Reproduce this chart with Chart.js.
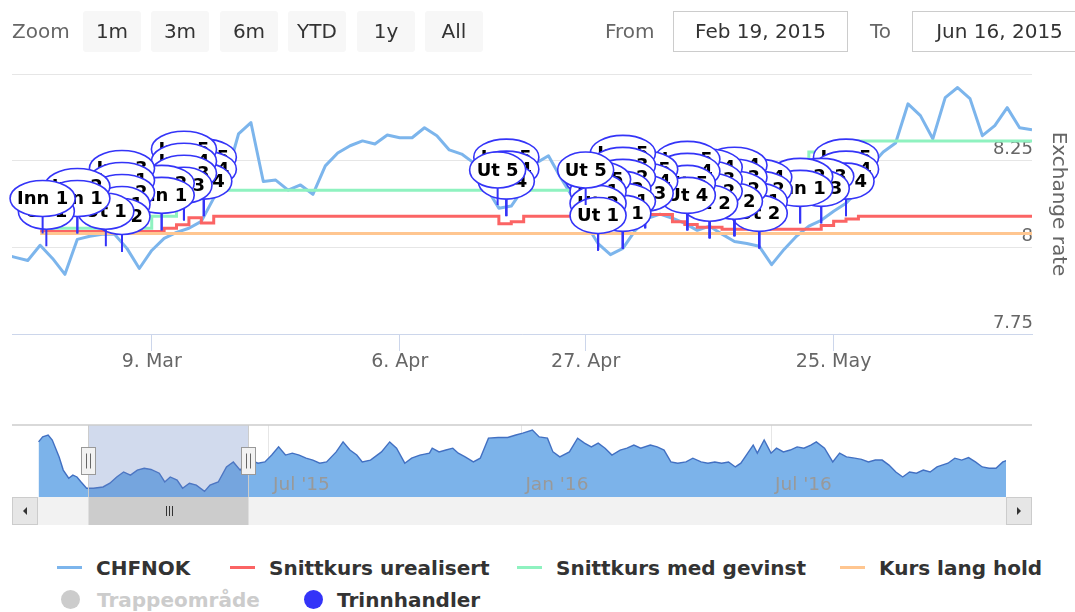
<!DOCTYPE html>
<html>
<head>
<meta charset="utf-8">
<script src="https://cdn.jsdelivr.net/npm/chart.js@4.4.1/dist/chart.umd.min.js"></script>
<style>
  body { margin: 0; width: 1075px; height: 612px; overflow: hidden; background: #fff; position: relative; font-family: "DejaVu Sans", sans-serif; }
  canvas { position: absolute; left: 0; }
  #main { top: 0; }
  #nav { top: 420px; }
  .lbl { position: absolute; top: 19px; font-size: 20px; color: #666; line-height: 24px; }
  .btn { position: absolute; top: 11px; width: 58px; height: 41px; line-height: 41px; background: #f7f7f7; border-radius: 3px; text-align: center; font-size: 20px; color: #333; }
  .inp { position: absolute; top: 11px; width: 173px; height: 39px; line-height: 39px; border: 1px solid #ccc; text-align: center; font-size: 20px; color: #333; }
  .leg { position: absolute; font-size: 20px; font-weight: bold; color: #333; line-height: 24px; white-space: nowrap; }
  .sym { position: absolute; width: 25px; height: 3px; }
  .dot { position: absolute; width: 19px; height: 19px; border-radius: 50%; }
</style>
</head>
<body>
<canvas id="main" width="1075" height="400"></canvas>
<canvas id="nav" width="1075" height="108"></canvas>

<div class="lbl" style="left:12px">Zoom</div>
<div class="btn" style="left:83px">1m</div>
<div class="btn" style="left:151px">3m</div>
<div class="btn" style="left:220px">6m</div>
<div class="btn" style="left:288px">YTD</div>
<div class="btn" style="left:357px">1y</div>
<div class="btn" style="left:425px">All</div>
<div class="lbl" style="left:605px">From</div>
<div class="inp" id="fromBox" style="left:673px"></div>
<div class="lbl" style="left:870px">To</div>
<div class="inp" id="toBox" style="left:912px"></div>

<div id="legend"></div>

<script>
Chart.defaults.font.family = '"DejaVu Sans", sans-serif';

// CHFNOK, one value per trading day from Feb 19, 2015 (index 0) to Jun 16, 2015 (index 83)
const chfnok = [
  7.980, 7.971, 7.962, 8.006, 7.968, 7.922, 8.023, 8.032, 8.038, 8.038,
  7.997, 7.939, 7.991, 8.026, 8.043, 8.055, 8.075, 8.142, 8.200, 8.327,
  8.360, 8.190, 8.194, 8.165, 8.180, 8.153, 8.235, 8.272, 8.293, 8.307,
  8.298, 8.324, 8.316, 8.316, 8.345, 8.322, 8.281, 8.269, 8.243, 8.171,
  8.113, 8.119, 8.171, 8.243, 8.264, 8.200, 8.142, 8.069, 8.011, 7.979,
  7.997, 8.049, 8.084, 8.096, 8.084, 8.069, 8.049, 8.061, 8.038, 8.017,
  8.011, 8.003, 7.950, 7.994, 8.032, 8.061, 8.078, 8.104, 8.127, 8.165,
  8.235, 8.275, 8.301, 8.414, 8.380, 8.313, 8.432, 8.461, 8.429, 8.322,
  8.351, 8.403, 8.345, 8.339
];

const tickDays = [12, 32, 47, 67];
const tickLabels = ['9. Mar', '6. Apr', '27. Apr', '25. May'];
const yTicks = [7.75, 8, 8.25, 8.5];

// step series: trading day where the level changes, and the new level
const redDays = [3, 13, 14, 15, 16, 17, 40, 41, 42, 47, 48, 52, 54, 55, 56, 58, 66, 67, 68, 69, 83];
const redValues = [8.046, 8.055, 8.065, 8.085, 8.07, 8.09, 8.068, 8.074, 8.09, 8.06, 8.08, 8.095, 8.074, 8.066, 8.058, 8.052, 8.063, 8.075, 8.082, 8.09, 8.09];
const greenDays = [3, 12, 14, 16, 55, 58, 64, 65, 68, 83];
const greenValues = [8.055, 8.09, 8.14, 8.165, 8.2, 8.235, 8.25, 8.275, 8.307, 8.307];
const orangeDays = [3, 83];
const orangeValues = [8.04, 8.04];

// step trades (flags): trading day, rate, title
const flagDays = [
  3.2, 3.5, 6.0, 6.0, 8.3, 9.6, 9.6, 9.6, 9.6, 9.6, 12.8, 12.8, 14.6, 14.6, 14.6, 14.6, 16.2, 16.2, 16.2,
  39.9, 40.6, 40.6, 40.6,
  47.0, 48.0, 48.0, 48.0, 48.0, 50.0, 50.0, 50.0, 50.0, 50.0, 50.0, 51.8, 51.8, 51.8,
  55.2, 55.2, 55.2, 55.2, 57.0, 57.0, 57.0, 57.0, 59.0, 59.0, 59.0, 59.0, 61.0, 61.0, 61.0, 61.0,
  64.3, 64.3, 66.0, 66.0, 68.0, 68.0, 68.0
];
const flagRates = [
  8.040, 8.003, 8.040, 8.040, 8.003, 7.988, 7.988, 7.988, 7.988, 7.988, 8.049, 8.049, 8.078, 8.078, 8.078, 8.078, 8.090, 8.090, 8.090,
  8.122, 8.090, 8.090, 8.090,
  8.122, 7.991, 7.991, 7.991, 7.991, 7.997, 7.997, 7.997, 7.997, 7.997, 7.997, 8.055, 8.055, 8.055,
  8.049, 8.049, 8.049, 8.049, 8.026, 8.026, 8.026, 8.026, 8.032, 8.032, 8.032, 8.032, 7.997, 7.997, 7.997, 7.997,
  8.069, 8.069, 8.069, 8.069, 8.090, 8.090, 8.090
];
const flagTitles = [
  'Inn 1', 'Ut 1', 'Inn 1', 'Inn 2', 'Ut 1', 'Ut 2', 'Ut 1', 'Inn 2', 'Inn 1', 'Inn 3', 'Inn 1', 'Inn 2', 'Ut 3', 'Inn 3', 'Inn 4', 'Inn 5', 'Ut 4', 'Inn 4', 'Inn 5',
  'Ut 5', 'Ut 4', 'Inn 4', 'Inn 5',
  'Ut 5', 'Ut 1', 'Ut 2', 'Ut 1', 'Inn 5', 'Ut 1', 'Inn 1', 'Ut 2', 'Inn 2', 'Inn 3', 'Inn 5', 'Ut 3', 'Inn 4', 'Inn 5',
  'Ut 4', 'Ut 5', 'Inn 4', 'Inn 5', 'Ut 2', 'Inn 2', 'Inn 3', 'Inn 4', 'Ut 2', 'Inn 2', 'Inn 3', 'Inn 4', 'Ut 2', 'Ut 1', 'Inn 2', 'Inn 4',
  'Inn 1', 'Inn 2', 'Ut 3', 'Inn 3', 'Ut 4', 'Inn 4', 'Inn 5'
];

// navigator: day of 2015 (Jan 1 = 0) and CHFNOK
const navDays = [
  13, 16, 20, 23, 28, 31, 35, 38, 41, 44, 48, 53, 60, 65, 70, 75, 80, 85, 90, 95,
  101, 105, 109, 114, 118, 123, 128, 134, 138, 144, 150, 155, 160, 166, 173, 178, 183, 188, 193, 198,
  203, 208, 213, 218, 223, 230, 235, 240, 245, 249, 255, 263, 269, 274, 280, 285, 291, 298, 300, 305,
  310, 315, 319, 324, 330, 335, 341, 348, 355, 361, 366, 373, 378, 384, 388, 393, 400, 406, 411, 416,
  421, 426, 431, 437, 442, 447, 452, 459, 464, 469, 474, 479, 485, 490, 496, 501, 506, 511, 516, 521,
  525, 530, 534, 537, 542, 547, 551, 556, 561, 566, 571, 576, 580, 586, 592, 597, 602, 608, 613, 618,
  623, 628, 633, 638, 643, 648, 653, 658, 663, 668, 676, 681, 686, 691, 696, 701, 706, 711, 716, 720
];
const navValues = [
  8.73, 8.81, 8.84, 8.76, 8.49, 8.28, 8.15, 8.20, 8.17, 8.09, 7.99, 7.99, 8.01, 8.07, 8.17, 8.25, 8.20, 8.28, 8.31, 8.29,
  8.23, 8.09, 8.17, 8.12, 7.99, 8.07, 8.04, 7.94, 8.04, 8.09, 8.33, 8.41, 8.28, 8.45, 8.39, 8.41, 8.52, 8.65, 8.52, 8.55,
  8.52, 8.47, 8.44, 8.39, 8.41, 8.57, 8.73, 8.60, 8.52, 8.41, 8.44, 8.57, 8.73, 8.63, 8.39, 8.47, 8.52, 8.55, 8.63, 8.57,
  8.60, 8.63, 8.55, 8.49, 8.41, 8.47, 8.79, 8.80, 8.80, 8.84, 8.87, 8.92, 8.81, 8.79, 8.57, 8.49, 8.57, 8.79, 8.71, 8.65,
  8.71, 8.63, 8.52, 8.60, 8.63, 8.68, 8.63, 8.68, 8.65, 8.60, 8.41, 8.39, 8.41, 8.47, 8.41, 8.39, 8.41, 8.39, 8.41, 8.33,
  8.39, 8.55, 8.68, 8.55, 8.76, 8.55, 8.63, 8.57, 8.60, 8.65, 8.63, 8.68, 8.73, 8.63, 8.41, 8.55, 8.49, 8.47, 8.45, 8.41,
  8.44, 8.44, 8.36, 8.25, 8.17, 8.25, 8.23, 8.28, 8.25, 8.33, 8.39, 8.47, 8.44, 8.48, 8.41, 8.33, 8.31, 8.31, 8.41, 8.44
];
const navTickDays = [181, 365, 547];
const navTickLabels = ["Jul '15", "Jan '16", "Jul '16"];

const rangeFrom = 'Feb 19, 2015';
const rangeTo = 'Jun 16, 2015';
const rangeStartDay = 49;
const rangeEndDay = 166;

const seriesNames = ['CHFNOK', 'Snittkurs urealisert', 'Snittkurs med gevinst', 'Kurs lang hold'];
const seriesColors = ['#7cb5ec', '#fb6464', '#8ff2c0', '#ffc690'];
const flagColor = '#3434f8';

document.getElementById('fromBox').textContent = rangeFrom;
document.getElementById('toBox').textContent = rangeTo;

function steps(days, values) {
  return days.map((d, i) => ({ x: d, y: values[i] }));
}

const flagPlugin = {
  id: 'flags',
  afterDatasetsDraw(chart) {
    const idx = chart.data.datasets.findIndex(d => d.flagTitles);
    const meta = chart.getDatasetMeta(idx);
    const titles = chart.data.datasets[idx].flagTitles;
    const ctx = chart.ctx;
    const stack = {};
    const items = meta.data.map((pt, i) => {
      const key = flagDays[i];
      stack[key] = stack[key] === undefined ? 0 : stack[key] + 1;
      return { x: pt.x, y: pt.y, k: stack[key], t: titles[i] };
    });
    // leftmost flags and the lowest in a stack end up on top
    items.sort((a, b) => b.x - a.x || b.k - a.k);
    ctx.save();
    ctx.font = 'bold 18px "DejaVu Sans"';
    ctx.textAlign = 'center';
    ctx.textBaseline = 'middle';
    items.forEach(f => {
      const w = ctx.measureText(f.t).width + 14, h = 36;
      const cy = f.y - 35 - f.k * 12;
      ctx.strokeStyle = flagColor;
      ctx.lineWidth = 2;
      ctx.beginPath();
      ctx.moveTo(f.x, cy + h / 2);
      ctx.lineTo(f.x, f.y);
      ctx.stroke();
      ctx.beginPath();
      ctx.ellipse(f.x, cy, w / 2, h / 2, 0, 0, Math.PI * 2);
      ctx.fillStyle = '#fff';
      ctx.fill();
      ctx.lineWidth = 1.6;
      ctx.stroke();
      ctx.fillStyle = '#000';
      ctx.fillText(f.t, f.x, cy + 1);
    });
    ctx.restore();
  }
};

new Chart(document.getElementById('main'), {
  type: 'line',
  data: {
    datasets: [
      { label: 'Trinnhandler', data: flagDays.map((d, i) => ({ x: d, y: flagRates[i] })), showLine: false, pointRadius: 0, pointHoverRadius: 0, flagTitles: flagTitles },
      { label: seriesNames[3], data: steps(orangeDays, orangeValues), borderColor: seriesColors[3], borderWidth: 3, pointRadius: 0, stepped: true },
      { label: seriesNames[2], data: steps(greenDays, greenValues), borderColor: seriesColors[2], borderWidth: 3, pointRadius: 0, stepped: true },
      { label: seriesNames[1], data: steps(redDays, redValues), borderColor: seriesColors[1], borderWidth: 3, pointRadius: 0, stepped: true },
      { label: seriesNames[0], data: chfnok.map((v, i) => ({ x: i, y: v })), borderColor: seriesColors[0], borderWidth: 3, pointRadius: 0, borderJoinStyle: 'round' }
    ]
  },
  options: {
    responsive: false,
    animation: false,
    events: [],
    layout: { padding: { left: 12, top: 74, right: 0, bottom: 0 } },
    plugins: { legend: { display: false }, tooltip: { enabled: false } },
    scales: {
      x: {
        type: 'linear', min: 0.73, max: 83,
        afterBuildTicks: s => { s.ticks = tickDays.map(v => ({ value: v })); },
        afterFit: s => { s.height = 66; },
        grid: { drawOnChartArea: false, drawTicks: true, tickLength: 17, color: '#ccd6eb' },
        border: { color: '#ccd6eb', width: 1 },
        ticks: { padding: 0, color: '#666', font: { size: 19 }, maxRotation: 0, autoSkip: false,
                 callback: v => tickLabels[tickDays.indexOf(v)] }
      },
      y: {
        position: 'right', min: 7.75, max: 8.5,
        afterBuildTicks: s => { s.ticks = yTicks.map(v => ({ value: v })); },
        afterFit: s => { s.width = 43; },
        grid: { color: '#e6e6e6', drawTicks: false },
        border: { display: false },
        ticks: { mirror: true, padding: 1, labelOffset: -11, color: '#666', font: { size: 18 },
                 callback: v => (v === 8.5 ? '' : String(v)) },
        title: { display: true, text: 'Exchange rate', color: '#666', font: { size: 20 }, padding: { top: 5, bottom: 0 } }
      }
    }
  },
  plugins: [flagPlugin]
});

const navigatorPlugin = {
  id: 'navigator',
  afterDraw(chart) {
    const { ctx, chartArea: a } = chart;
    const xs = chart.scales.x;
    const x0 = Math.round(xs.getPixelForValue(rangeStartDay)) + 0.5;
    const x1 = Math.round(xs.getPixelForValue(rangeEndDay)) + 0.5;
    const left = a.left - 26, right = a.right + 26;
    ctx.save();
    // selected range mask
    ctx.fillStyle = 'rgba(102,133,194,0.3)';
    ctx.fillRect(x0, a.top, x1 - x0, a.bottom - a.top);
    // outline
    ctx.strokeStyle = '#cccccc';
    ctx.lineWidth = 1.5;
    ctx.beginPath();
    ctx.moveTo(left, a.top);
    ctx.lineTo(right, a.top);
    ctx.stroke();
    ctx.lineWidth = 1;
    ctx.beginPath();
    ctx.moveTo(x0, a.top); ctx.lineTo(x0, a.bottom);
    ctx.moveTo(x1, a.top); ctx.lineTo(x1, a.bottom);
    ctx.stroke();
    // scrollbar
    const sy = a.bottom, sh = 28;
    ctx.fillStyle = '#f2f2f2';
    ctx.fillRect(left, sy, right - left, sh);
    [left, a.right].forEach((bx, j) => {
      ctx.fillStyle = '#e6e6e6';
      ctx.fillRect(bx, sy, 26, sh);
      ctx.strokeStyle = '#cccccc';
      ctx.strokeRect(bx + 0.5, sy + 0.5, 25, sh - 1);
      ctx.fillStyle = '#333';
      const cx = bx + 13, cy = sy + sh / 2;
      ctx.beginPath();
      if (j === 0) { ctx.moveTo(cx + 2, cy - 4); ctx.lineTo(cx - 2, cy); ctx.lineTo(cx + 2, cy + 4); }
      else { ctx.moveTo(cx - 2, cy - 4); ctx.lineTo(cx + 2, cy); ctx.lineTo(cx - 2, cy + 4); }
      ctx.closePath();
      ctx.fill();
    });
    ctx.fillStyle = '#cccccc';
    ctx.fillRect(x0, sy, x1 - x0, sh);
    const mid = Math.round((x0 + x1) / 2) + 0.5;
    ctx.strokeStyle = '#333';
    ctx.beginPath();
    [-3, 0, 3].forEach(o => { ctx.moveTo(mid + o, sy + 9); ctx.lineTo(mid + o, sy + 19); });
    ctx.stroke();
    // handles
    [x0, x1].forEach(hx => {
      const hy = Math.round((a.top + a.bottom) / 2) - 13.5;
      ctx.fillStyle = '#f2f2f2';
      ctx.fillRect(hx - 7, hy, 14, 27);
      ctx.strokeStyle = '#999';
      ctx.strokeRect(hx - 7, hy, 14, 27);
      ctx.strokeStyle = '#666';
      ctx.beginPath();
      ctx.moveTo(hx - 2, hy + 6); ctx.lineTo(hx - 2, hy + 21);
      ctx.moveTo(hx + 2, hy + 6); ctx.lineTo(hx + 2, hy + 21);
      ctx.stroke();
    });
    ctx.restore();
  }
};

new Chart(document.getElementById('nav'), {
  type: 'line',
  data: {
    datasets: [{
      data: navDays.map((d, i) => ({ x: d, y: navValues[i] })),
      borderColor: '#4270c2', borderWidth: 1.4, backgroundColor: '#7cb3ea', fill: 'start', pointRadius: 0
    }]
  },
  options: {
    responsive: false,
    animation: false,
    events: [],
    layout: { padding: { left: 38, right: 69, top: 5, bottom: 31 } },
    plugins: { legend: { display: false }, tooltip: { enabled: false } },
    scales: {
      x: {
        type: 'linear', min: 12.6, max: 718.3,
        afterBuildTicks: s => { s.ticks = navTickDays.map(v => ({ value: v })); },
        afterFit: s => { s.height = 0; },
        grid: { color: '#e6e6e6', drawTicks: false },
        border: { display: false },
        ticks: { mirror: true, align: 'start', labelOffset: 4, padding: 1, z: 1, color: '#999', font: { size: 18.5 },
                 maxRotation: 0, autoSkip: false, callback: v => navTickLabels[navTickDays.indexOf(v)] }
      },
      y: { display: false, min: 7.85, max: 9.0 }
    }
  },
  plugins: [navigatorPlugin]
});

// legend
const legend = document.getElementById('legend');
const lineLeft = [57, 230, 517, 840];
seriesNames.forEach((name, i) => {
  legend.insertAdjacentHTML('beforeend',
    `<div class="sym" style="left:${lineLeft[i]}px;top:566px;background:${seriesColors[i]}"></div>` +
    `<div class="leg" style="left:${lineLeft[i] + 39}px;top:556px">${name}</div>`);
});
legend.insertAdjacentHTML('beforeend',
  `<div class="dot" style="left:61px;top:590px;background:#cccccc"></div>` +
  `<div class="leg" style="left:97px;top:588px;color:#cccccc">Trappeområde</div>` +
  `<div class="dot" style="left:304px;top:590px;background:${flagColor}"></div>` +
  `<div class="leg" style="left:337px;top:588px">Trinnhandler</div>`);
</script>
</body>
</html>
